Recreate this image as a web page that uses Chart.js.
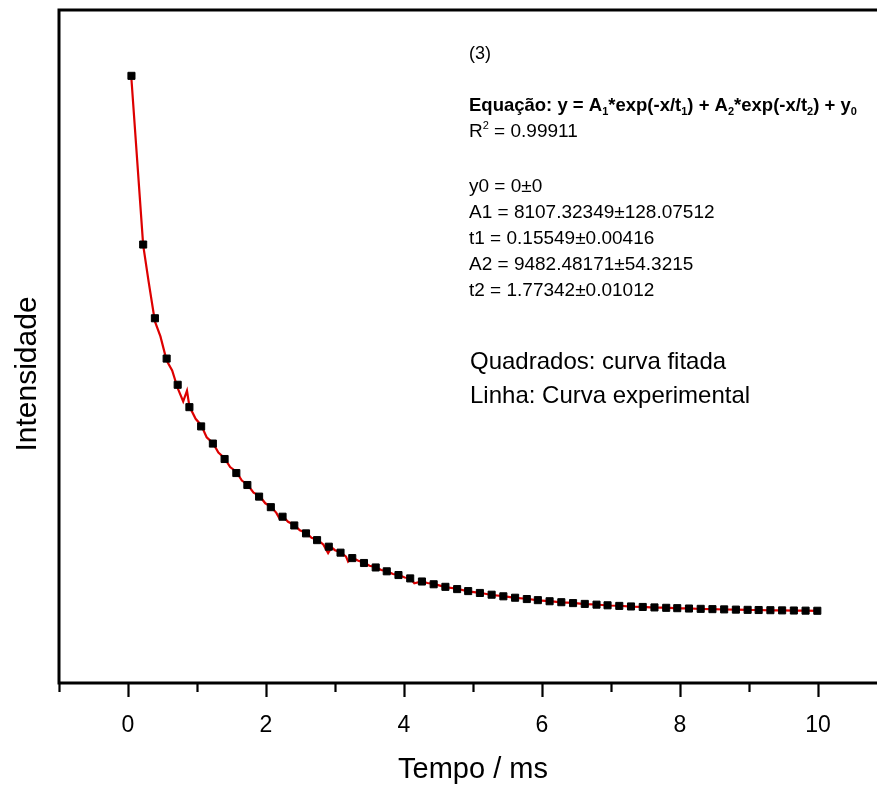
<!DOCTYPE html>
<html>
<head>
<meta charset="utf-8">
<script src="https://cdn.jsdelivr.net/npm/chart.js@4.4.1/dist/chart.umd.min.js"></script>
<style>
  html, body { margin: 0; padding: 0; background: #fff; overflow: hidden; width: 877px; height: 789px; }
  canvas { display: block; }
</style>
</head>
<body>
<canvas id="c" width="900" height="789"></canvas>
<script>
// Fitted bi-exponential decay (squares)
const fitTime = [0.05, 0.22, 0.39, 0.56, 0.72, 0.89, 1.06, 1.23, 1.40, 1.57,
  1.73, 1.90, 2.07, 2.24, 2.41, 2.58, 2.74, 2.91, 3.08, 3.25,
  3.42, 3.59, 3.75, 3.92, 4.09, 4.26, 4.43, 4.60, 4.77, 4.93,
  5.10, 5.27, 5.44, 5.61, 5.78, 5.94, 6.11, 6.28, 6.45, 6.62,
  6.79, 6.95, 7.12, 7.29, 7.46, 7.63, 7.80, 7.96, 8.13, 8.30,
  8.47, 8.64, 8.81, 8.98, 9.14, 9.31, 9.48, 9.65, 9.82, 9.99];
const fitIntensity = [15096, 10346, 8270, 7135, 6397, 5767, 5225, 4742, 4307, 3912,
  3575, 3248, 2951, 2682, 2436, 2213, 2023, 1838, 1670, 1517,
  1379, 1253, 1145, 1040, 945, 858, 780, 708, 644, 588,
  535, 486, 441, 401, 364, 333, 302, 275, 250, 227,
  206, 188, 171, 155, 141, 128, 117, 107, 97, 88,
  80, 73, 66, 60, 55, 50, 45, 41, 37, 34];

// Measured decay (red line)
const expTime = [0.05, 0.22, 0.30, 0.39, 0.47, 0.56, 0.64, 0.72, 0.80, 0.855,
  0.89, 0.98, 1.06, 1.14, 1.23, 1.31, 1.40, 1.48, 1.57, 1.65,
  1.73, 1.82, 1.90, 1.99, 2.07, 2.15, 2.19, 2.24, 2.32, 2.41,
  2.49, 2.58, 2.66, 2.74, 2.83, 2.90, 2.95, 3.00, 3.08, 3.16,
  3.19, 3.25, 3.33, 3.42, 3.50, 3.59, 3.67, 3.75, 3.84, 3.92,
  4.01, 4.09, 4.15, 4.26, 4.34, 4.43, 4.60, 4.77, 4.93, 5.10,
  5.27, 5.44, 5.61, 5.78, 5.94, 6.11, 6.28, 6.45, 6.62, 6.79,
  6.95, 7.12, 7.29, 7.46, 7.63, 7.80, 7.96, 8.13, 8.30, 8.47,
  8.64, 8.81, 8.98, 9.14, 9.31, 9.48, 9.65, 9.82, 9.99];
const expIntensity = [15000, 10330, 9290, 8180, 7760, 7080, 6800, 6300, 5930, 6230,
  5790, 5440, 5260, 4920, 4760, 4490, 4330, 4080, 3950, 3700,
  3590, 3360, 3280, 3060, 2970, 2790, 2650, 2700, 2540, 2450,
  2300, 2230, 2090, 2040, 1900, 1660, 1820, 1740, 1680, 1560,
  1420, 1530, 1450, 1390, 1300, 1265, 1180, 1150, 1070, 1045,
  970, 950, 810, 860, 815, 790, 700, 655, 580, 540,
  478, 448, 395, 372, 325, 306, 268, 256, 222, 210,
  182, 175, 150, 144, 122, 120, 102, 100, 84, 82,
  69, 68, 57, 56, 47, 47, 38, 39, 33];

// Axis ticks
const xMajorTicks = [0, 2, 4, 6, 8, 10];
const xMinorTicks = [-1, 1, 3, 5, 7, 9, 11];

// Text
const xTitle = 'Tempo / ms';
const yTitle = 'Intensidade';
const panelTag = '(3)';
const equationRuns = [
  ['Equação: y = A', 0], ['1', 1], ['*exp(-x/t', 0], ['1', 1], [') + A', 0], ['2', 1],
  ['*exp(-x/t', 0], ['2', 1], [') + y', 0], ['0', 1]
];
const r2Runs = [['R', 0], ['2', -1], [' = 0.99911', 0]];
const paramLines = [
  'y0 = 0±0',
  'A1 = 8107.32349±128.07512',
  't1 = 0.15549±0.00416',
  'A2 = 9482.48171±54.3215',
  't2 = 1.77342±0.01012'
];
const noteLines = ['Quadrados: curva fitada', 'Linha: Curva experimental'];

const FAMILY = '"Liberation Sans", Arial, Helvetica, sans-serif';

function drawRuns(ctx, runs, x, y, size, bold) {
  const w = bold ? 'bold ' : '';
  let cx = x;
  for (const [t, kind] of runs) {
    if (kind === 0) {
      ctx.font = w + size + 'px ' + FAMILY;
      ctx.fillText(t, cx, y);
    } else {
      const s = Math.round(size * 0.6);
      ctx.font = w + s + 'px ' + FAMILY;
      ctx.fillText(t, cx, kind === 1 ? y + 4 : y - 8);
    }
    cx += ctx.measureText(t).width;
  }
}

const framePlugin = {
  id: 'frame',
  afterDraw(chart) {
    const ctx = chart.ctx;
    const a = chart.chartArea;
    const xs = chart.scales.x;
    ctx.save();
    ctx.strokeStyle = '#000';
    ctx.lineCap = 'butt';
    // frame: top, left, bottom axis
    ctx.lineWidth = 3;
    ctx.beginPath();
    ctx.moveTo(a.left - 1.5, a.top);
    ctx.lineTo(a.right, a.top);
    ctx.moveTo(a.left, a.top);
    ctx.lineTo(a.left, a.bottom);
    ctx.moveTo(a.left - 1.5, a.bottom);
    ctx.lineTo(a.right, a.bottom);
    ctx.stroke();
    // outward tick marks
    ctx.lineWidth = 2.2;
    ctx.beginPath();
    for (const v of xMajorTicks) {
      const px = Math.round(xs.getPixelForValue(v)) + 0.5;
      ctx.moveTo(px, a.bottom);
      ctx.lineTo(px, a.bottom + 14);
    }
    for (const v of xMinorTicks) {
      const px = Math.round(xs.getPixelForValue(v)) + 0.5;
      ctx.moveTo(px, a.bottom);
      ctx.lineTo(px, a.bottom + 9);
    }
    ctx.stroke();

    ctx.fillStyle = '#000';
    // axis titles
    ctx.textAlign = 'center';
    ctx.textBaseline = 'alphabetic';
    ctx.font = '29px ' + FAMILY;
    ctx.fillText(xTitle, (a.left + a.right) / 2, 778);
    ctx.save();
    ctx.translate(36, 374);
    ctx.rotate(-Math.PI / 2);
    ctx.font = '30px ' + FAMILY;
    ctx.fillText(yTitle, 0, 0);
    ctx.restore();

    // fit annotation block
    ctx.textAlign = 'left';
    const tx = 469;
    ctx.font = '18px ' + FAMILY;
    ctx.fillText(panelTag, tx, 59);
    drawRuns(ctx, equationRuns, tx, 111, 18.5, true);
    drawRuns(ctx, r2Runs, tx, 137, 19, false);
    ctx.font = '19px ' + FAMILY;
    paramLines.forEach((t, i) => ctx.fillText(t, tx, 192 + i * 26));
    ctx.font = '24px ' + FAMILY;
    noteLines.forEach((t, i) => ctx.fillText(t, 470, 369 + i * 34));
    ctx.restore();
  }
};

new Chart(document.getElementById('c'), {
  type: 'scatter',
  data: {
    datasets: [
      {
        label: 'Quadrados: curva fitada',
        data: fitTime.map((t, i) => ({ x: t, y: fitIntensity[i] })),
        showLine: false,
        pointStyle: 'rect',
        pointRadius: 5,
        backgroundColor: '#000',
        borderColor: '#000',
        borderWidth: 1,
        order: 1
      },
      {
        label: 'Linha: Curva experimental',
        data: expTime.map((t, i) => ({ x: t, y: expIntensity[i] })),
        showLine: true,
        borderColor: '#dd0000',
        borderWidth: 2.2,
        pointRadius: 0,
        tension: 0,
        order: 2
      }
    ]
  },
  options: {
    responsive: false,
    animation: false,
    events: [],
    devicePixelRatio: 1,
    layout: { padding: { left: 59, top: 10, right: 13, bottom: 0 } },
    plugins: { legend: { display: false }, tooltip: { enabled: false } },
    scales: {
      x: {
        type: 'linear',
        min: -1,
        max: 11,
        afterBuildTicks: s => { s.ticks = xMajorTicks.map(v => ({ value: v })); },
        afterFit: s => { s.height = 106; },
        grid: { display: false },
        border: { display: false },
        ticks: {
          color: '#000',
          font: { family: FAMILY, size: 23 },
          padding: 21,
          maxRotation: 0,
          autoSkip: false
        }
      },
      y: {
        type: 'linear',
        min: -2000,
        max: 16950,
        display: false
      }
    }
  },
  plugins: [framePlugin]
});
</script>
</body>
</html>
